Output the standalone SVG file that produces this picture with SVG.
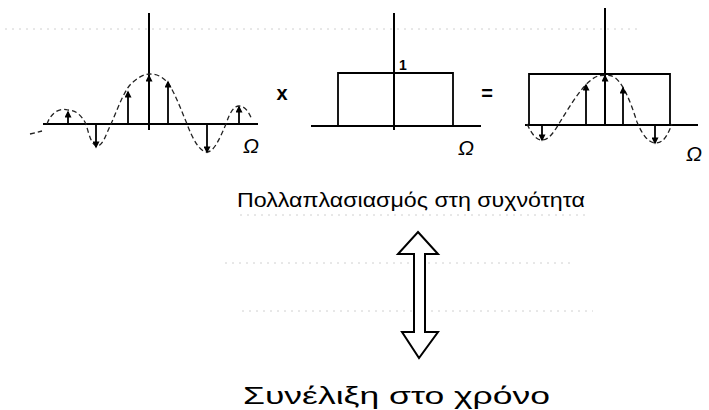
<svg xmlns="http://www.w3.org/2000/svg" width="709" height="410" viewBox="0 0 709 410">
<style>
.ax{stroke:#000;stroke-width:2;fill:none}
.rect{stroke:#000;stroke-width:1.8;fill:none}
.stem{stroke:#000;stroke-width:1.8;fill:none}
.curve{stroke:#222;stroke-width:1.3;fill:none;stroke-dasharray:5 3}
.scan{stroke:#d0d0d0;stroke-width:1;stroke-dasharray:2 5;fill:none}
.lbl{font-family:"Liberation Sans","DejaVu Sans",sans-serif;fill:#000}
.hand{font-family:"Liberation Sans","DejaVu Sans",sans-serif;fill:#000}
</style>
<defs>
<marker id="ah" viewBox="0 0 10 10" refX="8" refY="5" markerWidth="8" markerHeight="7" orient="auto" markerUnits="userSpaceOnUse">
<path d="M0,0 L10,5 L0,10 z" fill="#000"/>
</marker>
</defs>
<g id="scanlines">
<path class="scan" d="M5,29 H640"/>
<path class="scan" d="M225,263 H573"/>
<path class="scan" d="M242,311 H593"/>
<path class="scan" d="M240,215 H590"/>
</g>
<g id="plot-spectrum">
<path class="ax" d="M149,13 V130"/>
<path class="ax" d="M43,124 H258"/>
<path class="curve" d="M30,134 L42,131"/>
<path class="curve" d="M47,124 C52,110 62,108 68,110 C76,110 82,116 86,124 C89,135 92,146 97,146 C103,146 106,134 111,124 C118,108 125,88 133,82 C140,76 145,74 150,74 C158,74 165,78 170,86 C176,96 182,112 187,124 C193,140 200,152 207,152 C214,152 220,138 226,124 C230,112 234,106 239,106 C245,106 249,112 252,120"/>
<g marker-end="url(#ah)">
<path class="stem" d="M149,124 V76" stroke-width="2.5"/>
<path class="stem" d="M128,124 V92"/>
<path class="stem" d="M168,124 V82"/>
<path class="stem" d="M68,124 V112"/>
<path class="stem" d="M239,124 V107"/>
<path class="stem" d="M96,124 V147"/>
<path class="stem" d="M207,124 V152"/>
</g>
<text class="lbl" x="243" y="153" font-size="21" font-style="italic">Ω</text>
</g>
<g id="times">
<text class="lbl" x="282" y="100" font-size="20" font-weight="bold" text-anchor="middle">x</text>
</g>
<g id="plot-window">
<path class="ax" d="M394,13 V130" stroke-width="1.6"/>
<path class="ax" d="M311,126 H481"/>
<path class="rect" d="M338,126 V73 H453 V126"/>
<text class="lbl" x="403" y="70" font-size="14" font-weight="bold" text-anchor="middle">1</text>
<text class="lbl" x="458" y="155" font-size="21" font-style="italic">Ω</text>
</g>
<g id="equals">
<text class="lbl" x="487" y="100" font-size="20" font-weight="bold" text-anchor="middle">=</text>
</g>
<g id="plot-result">
<path class="ax" d="M605,8 V125"/>
<path class="ax" d="M525,125 H698"/>
<path class="rect" d="M529,125 V74 H670 V125" stroke-width="1.3"/>
<path class="curve" d="M527,124 C532,134 536,140 542,140 C549,140 554,132 560,122 C570,106 585,80 598,76 C602,75 608,75 612,76 C622,80 630,100 637,122 C642,134 648,143 656,143 C664,143 668,134 672,124"/>
<g marker-end="url(#ah)">
<path class="stem" d="M605,125 V76" stroke-width="3"/>
<path class="stem" d="M586,125 V85"/>
<path class="stem" d="M623,125 V88"/>
<path class="stem" d="M542,125 V140"/>
<path class="stem" d="M655,125 V143"/>
</g>
<text class="lbl" x="686" y="161" font-size="21" font-style="italic">Ω</text>
</g>
<g id="label-freq">
<text class="hand" x="237" y="207" font-size="20" textLength="348" lengthAdjust="spacingAndGlyphs">Πολλαπλασιασμός στη συχνότητα</text>
</g>
<g id="connectors">
<path d="M418,232 L438,254 L425,254 L425,332 L438,332 L419,358 L402,332 L414,332 L414,254 L398,254 Z" fill="#fff" stroke="#000" stroke-width="2" stroke-linejoin="miter"/>
</g>
<g id="label-time">
<text class="hand" x="243" y="404" font-size="23" textLength="307" lengthAdjust="spacingAndGlyphs">Συνέλιξη    στο    χρόνο</text>
</g>
</svg>
